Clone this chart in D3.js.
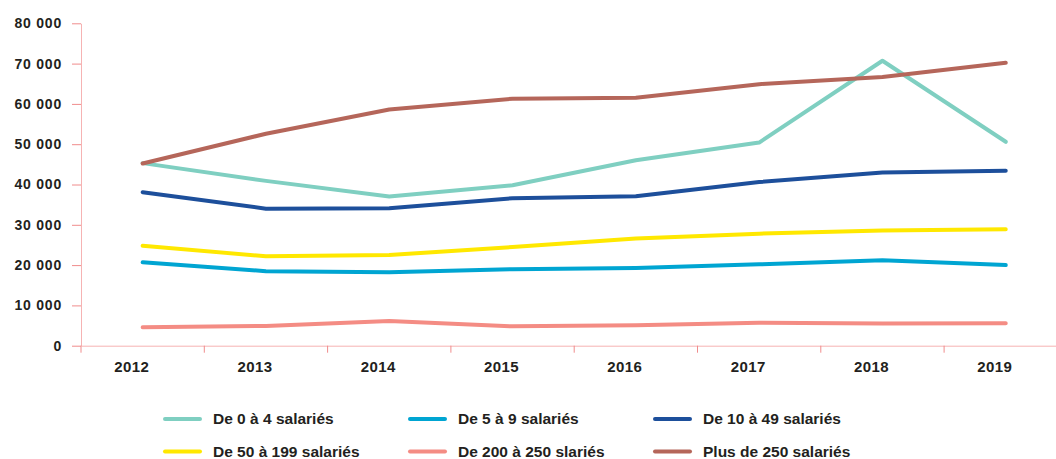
<!DOCTYPE html>
<html>
<head>
<meta charset="utf-8">
<script src="https://cdn.jsdelivr.net/npm/d3@7"></script>
<style>
  body { margin: 0; background: #fff; }
  svg { display: block; font-family: "Liberation Sans", Arial, sans-serif; }
  .axis text { font-weight: bold; fill: #231f20; }
</style>
</head>
<body>
<div id="chart"></div>
<script>
// Data
const years = ["2012", "2013", "2014", "2015", "2016", "2017", "2018", "2019"];
const yTicks = [0, 10000, 20000, 30000, 40000, 50000, 60000, 70000, 80000];

const s0to4 = [45300, 40900, 37000, 39800, 46000, 50400, 70700, 50600];
const s5to9 = [20700, 18500, 18200, 19000, 19300, 20200, 21200, 20000];
const s10to49 = [38100, 34000, 34100, 36600, 37100, 40600, 43000, 43400];
const s50to199 = [24800, 22200, 22500, 24500, 26600, 27800, 28600, 28900];
const s200to250 = [4600, 4900, 6100, 4800, 5100, 5700, 5500, 5600];
const s250plus = [45200, 52600, 58600, 61300, 61500, 64900, 66700, 70200];

const seriesNames = ["De 0 à 4 salariés", "De 5 à 9 salariés", "De 10 à 49 salariés",
                     "De 50 à 199 salariés", "De 200 à 250 slariés", "Plus de 250 salariés"];
const seriesColors = ["#7fcfc1", "#00a5d2", "#1d4f9b", "#ffe800", "#f48c84", "#b5665a"];
const seriesValues = [s0to4, s5to9, s10to49, s50to199, s200to250, s250plus];

const series = seriesNames.map((name, i) => ({
    name: name,
    color: seriesColors[i],
    values: seriesValues[i].map((v, j) => ({year: years[j], value: v}))
}));

// Size and layout
const W = 1056, H = 459;
const plotLeft = 81, plotTop = 23.3, plotBottom = 345.7;
const bandW = 123.3;

const svg = d3.select("#chart").append("svg")
    .attr("width", W)
    .attr("height", H);

// Scales
const x = d3.scaleBand()
    .domain(years)
    .range([plotLeft, plotLeft + bandW * years.length])
    .padding(0);

const y = d3.scaleLinear()
    .domain([0, 80000])
    .range([plotBottom, plotTop]);

const fr = d3.formatLocale({decimal: ",", thousands: " ", grouping: [3], currency: ["", " €"]});
const fmt = fr.format(",d");

// Y axis
const yAxis = svg.append("g")
    .attr("class", "axis")
    .attr("transform", `translate(${plotLeft},0)`)
    .call(d3.axisLeft(y).tickValues(yTicks).tickFormat(fmt).tickSize(9).tickSizeOuter(0).tickPadding(10));
yAxis.select(".domain").attr("stroke", "#f6b3b3");
yAxis.selectAll(".tick line").attr("stroke", "#f08c8c");
yAxis.selectAll(".tick text")
    .style("font-size", "14px")
    .style("letter-spacing", "0.8px");

// X axis: labels under each band, ticks at band boundaries
const xAxis = svg.append("g")
    .attr("class", "axis")
    .attr("transform", `translate(0,${plotBottom})`)
    .call(d3.axisBottom(x).tickSize(0).tickSizeOuter(0).tickPadding(16));
xAxis.select(".domain").attr("stroke", "#f6b3b3");
xAxis.selectAll(".tick text")
    .attr("dx", -11)
    .style("font-size", "15px")
    .style("letter-spacing", "0.4px");

xAxis.selectAll(".bound")
    .data(years)
    .enter().append("line")
    .attr("class", "bound")
    .attr("x1", d => x(d))
    .attr("x2", d => x(d))
    .attr("y1", 0)
    .attr("y2", 7)
    .attr("stroke", "#f08c8c");

// Lines
const line = d3.line()
    .x(d => x(d.year) + x.bandwidth() / 2)
    .y(d => y(d.value));

svg.selectAll(".series")
    .data(series)
    .enter().append("path")
    .attr("class", "series")
    .attr("d", d => line(d.values))
    .attr("fill", "none")
    .attr("stroke", d => d.color)
    .attr("stroke-width", 4)
    .attr("stroke-linecap", "round")
    .attr("stroke-linejoin", "round");

// Legend: 3 columns x 2 rows
const legendCols = [165, 410, 655];
const legendRows = [419, 451.5];

const legend = svg.selectAll(".legend")
    .data(series)
    .enter().append("g")
    .attr("class", "legend")
    .attr("transform", (d, i) => `translate(${legendCols[i % 3]},${legendRows[Math.floor(i / 3)]})`);

legend.append("line")
    .attr("x1", 0).attr("x2", 35)
    .attr("y1", 0).attr("y2", 0)
    .attr("stroke", d => d.color)
    .attr("stroke-width", 4)
    .attr("stroke-linecap", "round");

legend.append("text")
    .attr("x", 48)
    .attr("dy", "0.35em")
    .style("font-size", "15.5px")
    .style("font-weight", "bold")
    .style("fill", "#231f20")
    .text(d => d.name);
</script>
</body>
</html>
